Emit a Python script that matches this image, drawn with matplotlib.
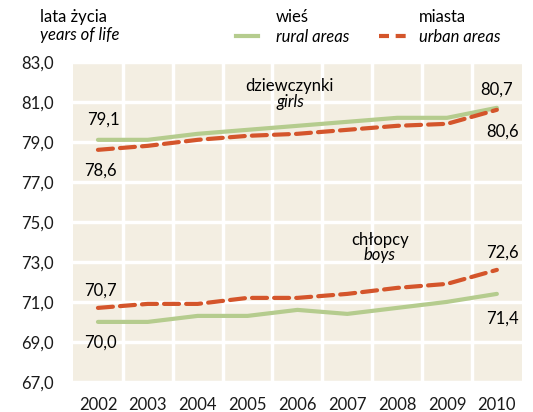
import matplotlib.pyplot as plt
from matplotlib.ticker import FixedLocator, FuncFormatter

plt.rcParams['font.family'] = ['Lato', 'DejaVu Sans']

years = [2002, 2003, 2004, 2005, 2006, 2007, 2008, 2009, 2010]
girls_rural = [79.1, 79.1, 79.4, 79.6, 79.8, 80.0, 80.2, 80.2, 80.7]
girls_urban = [78.6, 78.8, 79.1, 79.3, 79.4, 79.6, 79.8, 79.9, 80.6]
boys_rural = [70.0, 70.0, 70.3, 70.3, 70.6, 70.4, 70.7, 71.0, 71.4]
boys_urban = [70.7, 70.9, 70.9, 71.2, 71.2, 71.4, 71.7, 71.9, 72.6]

green = '#b5cc8e'
red = '#d4552b'
bg = '#f3eee2'

fig = plt.figure(figsize=(5.33, 4.12), dpi=100)
ax = fig.add_axes([0.137, 0.073, 0.842, 0.777])
ax.set_facecolor(bg)

x = list(range(len(years)))
ax.plot(x, girls_rural, color=green, lw=3, solid_capstyle='round', zorder=3)
ax.plot(x, boys_rural, color=green, lw=3, solid_capstyle='round', zorder=3)
ax.plot(x, girls_urban, color=red, lw=3, dashes=(3.6, 1.7), dash_capstyle='round', zorder=4)
ax.plot(x, boys_urban, color=red, lw=3, dashes=(3.6, 1.7), dash_capstyle='round', zorder=4)

ax.set_xlim(-0.5, len(years) - 0.5)
ax.set_ylim(67, 83)
ax.yaxis.set_major_locator(FixedLocator([67, 69, 71, 73, 75, 77, 79, 81, 83]))
ax.yaxis.set_major_formatter(FuncFormatter(lambda v, p: f"{v:.1f}".replace('.', ',')))
ax.set_xticks(x)
ax.set_xticklabels([str(y) for y in years])
ax.xaxis.set_minor_locator(FixedLocator([i + 0.5 for i in range(len(years) - 1)]))

ax.grid(axis='y', which='major', color='white', lw=2.5)
ax.grid(axis='x', which='minor', color='white', lw=2.5)
ax.set_axisbelow(True)
ax.tick_params(axis='both', which='both', length=0, labelsize=12, colors='#1a1a1a')
ax.tick_params(axis='y', pad=14)
ax.tick_params(axis='x', pad=11)
for s in ax.spines.values():
    s.set_visible(False)

def lab(v):
    return f"{v:.1f}".replace('.', ',')

fs = 12
ax.annotate(lab(girls_rural[0]), (0, girls_rural[0]), xytext=(4, 9), textcoords='offset points', ha='center', va='bottom', fontsize=fs)
ax.annotate(lab(girls_urban[0]), (0, girls_urban[0]), xytext=(2, -9), textcoords='offset points', ha='center', va='top', fontsize=fs)
ax.annotate(lab(girls_rural[-1]), (8, girls_rural[-1]), xytext=(0, 7), textcoords='offset points', ha='center', va='bottom', fontsize=fs)
ax.annotate(lab(girls_urban[-1]), (8, girls_urban[-1]), xytext=(4, -10), textcoords='offset points', ha='center', va='top', fontsize=fs)
ax.annotate(lab(boys_urban[0]), (0, boys_urban[0]), xytext=(2, 7), textcoords='offset points', ha='center', va='bottom', fontsize=fs)
ax.annotate(lab(boys_rural[0]), (0, boys_rural[0]), xytext=(2, -9), textcoords='offset points', ha='center', va='top', fontsize=fs)
ax.annotate(lab(boys_urban[-1]), (8, boys_urban[-1]), xytext=(4, 7), textcoords='offset points', ha='center', va='bottom', fontsize=fs)
ax.annotate(lab(boys_rural[-1]), (8, boys_rural[-1]), xytext=(4, -12), textcoords='offset points', ha='center', va='top', fontsize=fs)

ax.text(3.85, 81.8, 'dziewczynki', ha='center', va='center', fontsize=fs)
ax.text(3.85, 81.0, 'girls', ha='center', va='center', fontsize=fs, style='italic')
ax.text(5.65, 74.1, 'chłopcy', ha='center', va='center', fontsize=fs)
ax.text(5.65, 73.35, 'boys', ha='center', va='center', fontsize=fs, style='italic')

# header and legend
fig.text(40 / 533, 1 - 17 / 412, 'lata życia', ha='left', va='center', fontsize=fs)
fig.text(40 / 533, 1 - 35 / 412, 'years of life', ha='left', va='center', fontsize=fs, style='italic')
fig.lines.append(plt.Line2D([236 / 533, 258 / 533], [1 - 36 / 412, 1 - 36 / 412], color=green, lw=3, transform=fig.transFigure))
fig.text(276 / 533, 1 - 17 / 412, 'wieś', ha='left', va='center', fontsize=fs)
fig.text(276 / 533, 1 - 37 / 412, 'rural areas', ha='left', va='center', fontsize=fs, style='italic')
fig.lines.append(plt.Line2D([379 / 533, 409 / 533], [1 - 36 / 412, 1 - 36 / 412], color=red, lw=3, dashes=(2.4, 1.6), transform=fig.transFigure))
fig.text(419 / 533, 1 - 17 / 412, 'miasta', ha='left', va='center', fontsize=fs)
fig.text(419 / 533, 1 - 37 / 412, 'urban areas', ha='left', va='center', fontsize=fs, style='italic')

fig.savefig('out.png', dpi=100)
